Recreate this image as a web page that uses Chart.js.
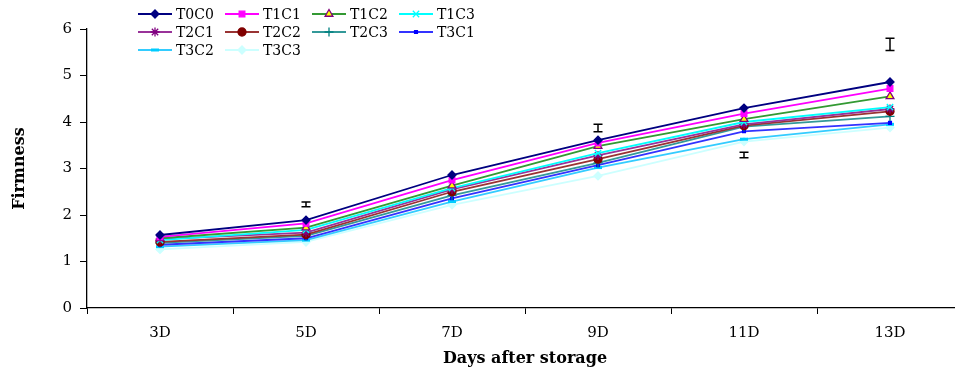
<!DOCTYPE html>
<html>
<head>
<meta charset="utf-8">
<script src="https://cdn.jsdelivr.net/npm/chart.js@4/dist/chart.umd.min.js"></script>
<style>
  html, body { margin: 0; padding: 0; background: #fff; overflow: hidden; }
  #wrap { width: 975px; height: 372px; }
</style>
</head>
<body>
<div id="wrap"><canvas id="firmChart" width="975" height="372"></canvas></div>
<script>
const days = ['3D', '5D', '7D', '9D', '11D', '13D'];

const t0c0 = [1.57, 1.89, 2.86, 3.61, 4.30, 4.86];
const t1c1 = [1.53, 1.82, 2.75, 3.55, 4.18, 4.72];
const t1c2 = [1.50, 1.73, 2.63, 3.48, 4.06, 4.55];
const t1c3 = [1.46, 1.68, 2.58, 3.33, 4.00, 4.32];
const t2c1 = [1.48, 1.62, 2.55, 3.28, 3.95, 4.28];
const t2c2 = [1.42, 1.58, 2.50, 3.20, 3.92, 4.23];
const t2c3 = [1.40, 1.55, 2.42, 3.12, 3.90, 4.12];
const t3c1 = [1.36, 1.50, 2.36, 3.07, 3.80, 3.98];
const t3c2 = [1.32, 1.46, 2.29, 3.02, 3.63, 3.95];
const t3c3 = [1.26, 1.42, 2.22, 2.84, 3.58, 3.88];

// error bars (mean, half range) – not tied to a series
const errMean = [null, 2.23, null, 3.87, 3.29, 5.67];
const errHalf = [null, 0.05, null, 0.08, 0.06, 0.13];

const yTicks = [0, 1, 2, 3, 4, 5, 6];

function series(label, data, line, style, fill, border, radius) {
  return {
    label: label,
    data: data,
    borderColor: line,
    borderWidth: 1.8,
    pointStyle: style,
    pointRadius: radius,
    pointBackgroundColor: fill,
    pointBorderColor: border,
    pointBorderWidth: 1.3,
    tension: 0
  };
}

const datasets = [
  series('T0C0', t0c0, '#000080', 'rectRot', '#000080', '#000080', 4),
  series('T1C1', t1c1, '#FF00FF', 'rect', '#FF00FF', '#FF00FF', 4),
  series('T1C2', t1c2, '#339933', 'triangle', '#FFFF00', '#800080', 4.5),
  series('T1C3', t1c3, '#00FFFF', 'crossRot', '#00FFFF', '#00FFFF', 4.5),
  series('T2C1', t2c1, '#993399', 'star', '#800080', '#800080', 4.5),
  series('T2C2', t2c2, '#993333', 'circle', '#800000', '#800000', 4),
  series('T2C3', t2c3, '#339999', 'cross', '#008080', '#008080', 4.5),
  series('T3C1', t3c1, '#3333FF', 'rect', '#0000FF', '#0000FF', 2),
  series('T3C2', t3c2, '#33CCFF', 'line', '#00CCFF', '#00CCFF', 4),
  series('T3C3', t3c3, '#CCFFFF', 'rectRot', '#CCFFFF', '#CCFFFF', 4)
];
datasets.find(d => d.label === 'T3C2').pointBorderWidth = 3;

const FONT = 'DejaVu Serif';

// I-beam error bars through the chart scales
const errorBars = {
  id: 'errorBars',
  afterDatasetsDraw(chart) {
    const ctx = chart.ctx;
    const xs = chart.scales.x, ys = chart.scales.y;
    ctx.save();
    ctx.strokeStyle = '#000';
    ctx.lineWidth = 1.5;
    errMean.forEach((m, i) => {
      if (m === null) return;
      const x = xs.getPixelForValue(i);
      const top = ys.getPixelForValue(m + errHalf[i]);
      const bot = ys.getPixelForValue(m - errHalf[i]);
      ctx.beginPath();
      ctx.moveTo(x, top); ctx.lineTo(x, bot);
      ctx.moveTo(x - 4.5, top); ctx.lineTo(x + 4.5, top);
      ctx.moveTo(x - 4.5, bot); ctx.lineTo(x + 4.5, bot);
      ctx.stroke();
    });
    ctx.restore();
  }
};

// legend in a 4-column grid at the top left
const gridLegend = {
  id: 'gridLegend',
  afterDraw(chart) {
    const ctx = chart.ctx;
    ctx.save();
    ctx.font = '14px "' + FONT + '"';
    ctx.textBaseline = 'middle';
    chart.data.datasets.forEach((ds, i) => {
      const col = i % 4, row = Math.floor(i / 4);
      const x = 138 + col * 87;
      const y = 14 + row * 18;
      ctx.strokeStyle = ds.borderColor;
      ctx.lineWidth = 1.8;
      ctx.beginPath();
      ctx.moveTo(x, y); ctx.lineTo(x + 34, y);
      ctx.stroke();
      ctx.fillStyle = ds.pointBackgroundColor;
      ctx.strokeStyle = ds.pointBorderColor;
      ctx.lineWidth = ds.pointBorderWidth;
      Chart.helpers.drawPoint(ctx, {
        pointStyle: ds.pointStyle, radius: ds.pointRadius, rotation: 0, borderWidth: ds.pointBorderWidth
      }, x + 17, y);
      ctx.fillStyle = '#000';
      ctx.fillText(ds.label, x + 38, y + 1);
    });
    ctx.restore();
  }
};

const ctx = document.getElementById('firmChart').getContext('2d');
new Chart(ctx, {
  type: 'line',
  data: { labels: days, datasets: datasets },
  plugins: [errorBars, gridLegend],
  options: {
    responsive: false,
    animation: false,
    layout: { padding: { top: 29, right: 12, left: 0, bottom: 0 } },
    plugins: { legend: { display: false }, tooltip: { enabled: false } },
    scales: {
      x: {
        offset: true,
        grid: { display: true, offset: true, drawOnChartArea: false, color: '#000', tickLength: 6 },
        border: { color: '#000', width: 1.3 },
        ticks: { color: '#000', font: { family: FONT, size: 15 }, padding: 10 },
        title: { display: true, text: 'Days after storage', color: '#000', font: { family: FONT, size: 16, weight: 'bold' }, padding: { top: 10 } },
        afterFit(scale) { scale.height = 64; }
      },
      y: {
        min: 0, max: 6,
        afterBuildTicks(scale) { scale.ticks = yTicks.map(v => ({ value: v })); },
        grid: { display: true, drawOnChartArea: false, color: '#000', tickLength: 7 },
        border: { color: '#000', width: 1.3 },
        ticks: { color: '#000', font: { family: FONT, size: 15 }, padding: 8 },
        title: { display: true, text: 'Firmness', color: '#000', font: { family: FONT, size: 16, weight: 'bold' }, padding: { top: 10, bottom: 0 } },
        afterFit(scale) { scale.width = 87; }
      }
    }
  }
});
</script>
</body>
</html>
